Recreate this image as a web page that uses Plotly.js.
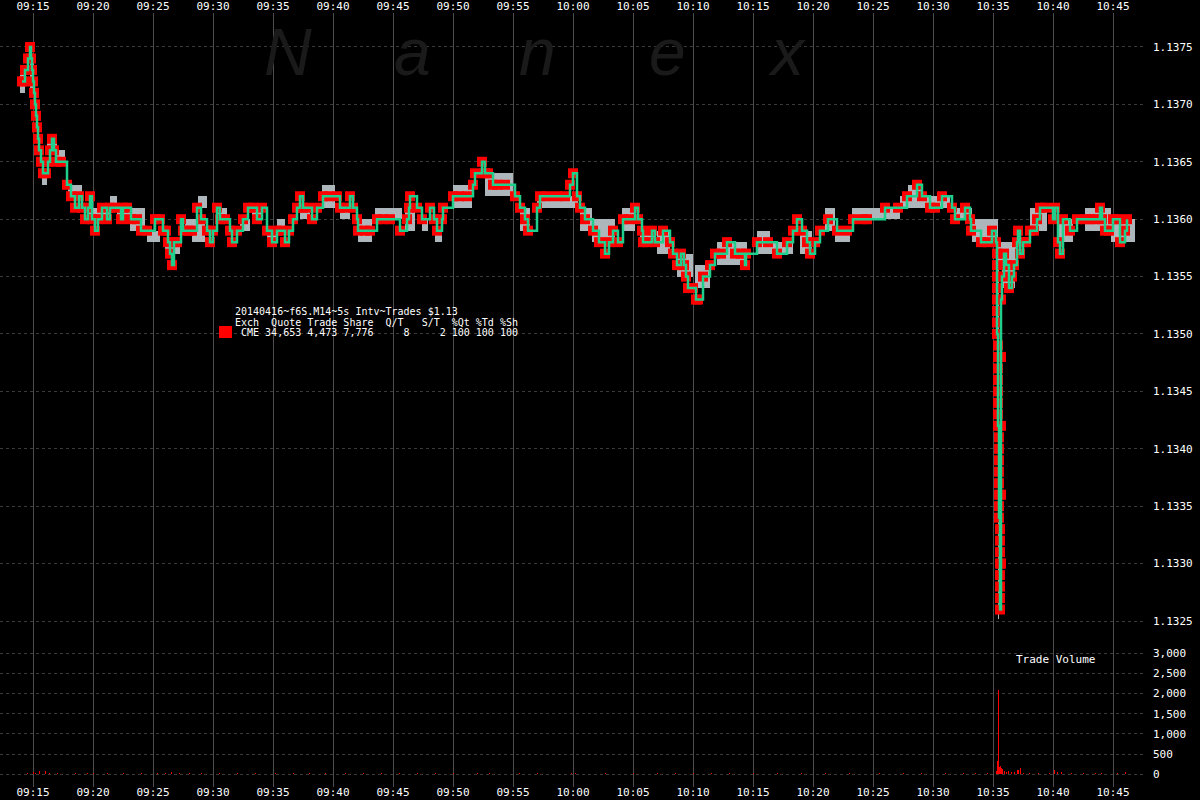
<!DOCTYPE html>
<html>
<head>
<meta charset="utf-8">
<script src="https://cdn.plot.ly/plotly-3.0.1.min.js"></script>
<style>html,body{margin:0;padding:0;background:#000;}#chart{width:1200px;height:800px;}</style>
</head>
<body>
<div id="chart"></div>
<script>
// ---- DATA ----
const DAY = '2014-04-16 ';

// Trades: time of each trade and its price
const tradeTimes = [
'09:14:05','09:14:15','09:14:20','09:14:35','09:14:45','09:14:50','09:14:55','09:15:00','09:15:05','09:15:10',
'09:15:15','09:15:20','09:15:25','09:15:30','09:15:40','09:15:50','09:16:05','09:16:15','09:16:25','09:16:35',
'09:16:45','09:16:55','09:17:20','09:17:50','09:18:10','09:18:30','09:18:50','09:19:05','09:19:20','09:19:35',
'09:19:45','09:19:55','09:20:10','09:20:25','09:20:45','09:21:10','09:21:25','09:21:50','09:22:20','09:22:30',
'09:22:50','09:23:10','09:23:40','09:24:00','09:24:30','09:25:10','09:25:35','09:25:50','09:26:05','09:26:15',
'09:26:25','09:26:35','09:26:45','09:27:00','09:27:20','09:27:30','09:28:00','09:28:15','09:28:40','09:29:00',
'09:29:30','09:29:45','09:30:00','09:30:20','09:30:35','09:31:00','09:31:25','09:31:35','09:32:00','09:32:30',
'09:32:55','09:33:20','09:33:40','09:34:05','09:34:30','09:34:55','09:35:20','09:35:40','09:36:00','09:36:20',
'09:36:40','09:37:00','09:37:15','09:37:30','09:37:50','09:38:15','09:38:40','09:39:10','09:39:40','09:40:20',
'09:40:35','09:41:00','09:41:25','09:41:40','09:42:00','09:42:05','09:42:40','09:43:05','09:43:40','09:44:10',
'09:44:45','09:45:35','09:46:10','09:46:20','09:46:25','09:47:00','09:47:25','09:48:05','09:48:25','09:48:40',
'09:49:05','09:49:10','09:50:00','09:50:30','09:51:10','09:51:40','09:51:50','09:52:25','09:52:40','09:52:55',
'09:53:20','09:53:40','09:54:20','09:55:10','09:55:35','09:56:00','09:56:15','09:57:00','09:57:15','09:57:50',
'09:58:40','09:59:20','09:59:45','10:00:00','10:00:20','10:00:35','10:01:00','10:01:40','10:02:10','10:02:40',
'10:03:00','10:03:20','10:03:45','10:04:10','10:04:40','10:05:10','10:05:25','10:05:45','10:05:50','10:06:10',
'10:06:35','10:06:50','10:07:30','10:08:05','10:08:20','10:08:40','10:09:00','10:09:15','10:09:25','10:09:35',
'10:10:00','10:10:15','10:10:25','10:10:50','10:11:25','10:11:50','10:12:20','10:12:50','10:13:30','10:14:00',
'10:14:20','10:14:25','10:15:20','10:16:15','10:17:00','10:17:50','10:18:20','10:18:40','10:19:05','10:19:30',
'10:19:45','10:20:10','10:20:35','10:21:15','10:22:00','10:22:50','10:23:20','10:24:10','10:24:30','10:26:00',
'10:27:05','10:27:50','10:28:40','10:29:05','10:29:45','10:30:10','10:30:45','10:31:35','10:31:50','10:32:40',
'10:33:05','10:33:10','10:34:00','10:34:35','10:34:55','10:35:15',
'10:35:20','10:35:20','10:35:20','10:35:20','10:35:20','10:35:20','10:35:20','10:35:20',
'10:35:25','10:35:25','10:35:25','10:35:25','10:35:25','10:35:25','10:35:25','10:35:25',
'10:35:30','10:35:30','10:35:30','10:35:30','10:35:30','10:35:30','10:35:30','10:35:30',
'10:35:35','10:35:35','10:35:35','10:35:35','10:35:35','10:35:35','10:35:35','10:35:35',
'10:35:40','10:35:40','10:35:40','10:35:40','10:35:40','10:35:45','10:35:55','10:36:05','10:36:20','10:36:35',
'10:36:45','10:37:00','10:37:05','10:37:15','10:37:30','10:37:45','10:38:05','10:38:25','10:38:40','10:38:55',
'10:39:20','10:40:00','10:40:10','10:40:25','10:40:35','10:40:50','10:41:25','10:42:00','10:42:40','10:43:05',
'10:43:30','10:43:55','10:44:05','10:44:20','10:44:40','10:45:00','10:45:25','10:45:35','10:46:00','10:46:10'
];
const tradePrices = [
1.1372,1.1372,1.1373,1.1374,1.1375,1.1374,1.1373,1.1372,1.1371,1.1370,
1.1369,1.1368,1.1367,1.1366,1.1365,1.1364,1.1364,1.1365,1.1366,1.1367,
1.1366,1.1365,1.1365,1.1363,1.1362,1.1361,1.1362,1.1361,1.1360,1.1361,
1.1362,1.1360,1.1359,1.1360,1.1361,1.1360,1.1361,1.1361,1.1360,1.1361,
1.1361,1.1360,1.1360,1.1359,1.1359,1.1360,1.1360,1.1359,1.1359,1.1358,
1.1357,1.1356,1.1358,1.1358,1.1360,1.1359,1.1359,1.1359,1.1361,1.1360,
1.1359,1.1358,1.1359,1.1361,1.1360,1.1360,1.1359,1.1358,1.1359,1.1360,
1.1361,1.1361,1.1360,1.1361,1.1359,1.1358,1.1359,1.1359,1.1358,1.1359,
1.1360,1.1361,1.1362,1.1361,1.1361,1.1360,1.1361,1.1362,1.1362,1.1362,
1.1361,1.1361,1.1362,1.1361,1.1360,1.1359,1.1359,1.1359,1.1360,1.1360,
1.1360,1.1359,1.1360,1.1361,1.1362,1.1361,1.1360,1.1361,1.1360,1.1359,
1.1360,1.1361,1.1362,1.1362,1.1362,1.1363,1.1364,1.1365,1.1364,1.1364,
1.1363,1.1363,1.1363,1.1362,1.1361,1.1360,1.1359,1.1361,1.1362,1.1362,
1.1362,1.1362,1.1363,1.1364,1.1362,1.1361,1.1360,1.1359,1.1358,1.1357,
1.1358,1.1359,1.1358,1.1360,1.1360,1.1361,1.1360,1.1359,1.1358,1.1358,
1.1359,1.1358,1.1359,1.1358,1.1357,1.1356,1.1357,1.1356,1.1355,1.1354,
1.1354,1.1353,1.1353,1.1355,1.1356,1.1357,1.1357,1.1358,1.1357,1.1357,
1.1356,1.1357,1.1358,1.1358,1.1357,1.1358,1.1359,1.1360,1.1359,1.1358,
1.1357,1.1358,1.1359,1.1360,1.1359,1.1359,1.1360,1.1360,1.1360,1.1361,
1.1361,1.1362,1.1363,1.1362,1.1361,1.1361,1.1362,1.1361,1.1360,1.1361,
1.1360,1.1359,1.1358,1.1358,1.1359,1.1358,
1.1357,1.1356,1.1355,1.1354,1.1353,1.1352,1.1351,1.1350,
1.1349,1.1348,1.1347,1.1346,1.1345,1.1344,1.1343,1.1342,
1.1341,1.1340,1.1339,1.1338,1.1337,1.1336,1.1335,1.1334,
1.1333,1.1332,1.1331,1.1330,1.1329,1.1328,1.1327,1.1326,
1.1330,1.1336,1.1342,1.1348,1.1353,1.1355,1.1357,1.1356,1.1354,1.1355,
1.1356,1.1358,1.1359,1.1357,1.1358,1.1358,1.1359,1.1359,1.1360,1.1361,
1.1361,1.1360,1.1361,1.1358,1.1357,1.1360,1.1359,1.1360,1.1360,1.1360,
1.1360,1.1361,1.1360,1.1359,1.1359,1.1360,1.1360,1.1358,1.1359,1.1360
];

// Quote ranges (grey blocks): start, end, low, high
const quoteStart = ['09:13:55','09:14:45','09:15:45','09:16:10','09:17:00','09:17:55','09:19:30','09:21:25','09:22:00','09:23:05',
'09:24:30','09:26:00','09:27:40','09:28:15','09:28:45','09:30:20','09:32:15','09:33:15','09:34:30','09:35:20',
'09:37:15','09:39:05','09:40:35','09:42:05','09:43:30','09:46:00','09:47:25','09:48:30','09:50:00','09:52:40',
'09:55:35','09:57:00','10:00:35','10:01:35','10:04:05','10:05:35','10:07:00','10:08:40','10:10:10','10:12:00',
'10:15:20','10:16:25','10:18:55','10:21:00','10:21:50','10:23:15','10:27:15','10:27:55','10:29:45','10:31:50',
'10:33:15','10:35:20','10:35:45','10:38:05','10:40:20','10:42:40','10:44:50','10:35:25'];
const quoteEnd = ['09:14:20','09:15:05','09:16:10','09:17:00','09:17:40','09:19:05','09:21:25','09:22:00','09:23:05','09:24:20',
'09:25:35','09:27:15','09:28:15','09:29:20','09:29:30','09:31:10','09:33:05','09:34:05','09:35:20','09:36:00',
'09:38:05','09:40:10','09:41:25','09:43:15','09:45:45','09:46:50','09:47:55','09:49:05','09:51:35','09:55:00',
'09:56:25','10:00:25','10:01:35','10:03:30','10:05:10','10:06:50','10:08:05','10:10:00','10:11:25','10:14:30',
'10:16:25','10:18:20','10:19:55','10:21:50','10:23:05','10:27:15','10:29:45','10:29:05','10:31:25','10:33:15',
'10:35:25','10:37:00','10:36:50','10:39:30','10:41:40','10:44:50','10:46:50','10:35:30'];
const quoteLow = [1.1371,1.1371,1.1363,1.1366,1.1365,1.1362,1.1360,1.1361,1.1360,1.1359,
1.1358,1.1357,1.1359,1.1358,1.1361,1.1360,1.1359,1.1360,1.1358,1.1359,
1.1360,1.1361,1.1360,1.1358,1.1360,1.1359,1.1359,1.1358,1.1361,1.1362,
1.1359,1.1361,1.1359,1.1358,1.1359,1.1358,1.1357,1.1355,1.1354,1.1356,
1.1357,1.1357,1.1357,1.1359,1.1358,1.1360,1.1361,1.1362,1.1361,1.1360,
1.1358,1.1356,1.1354,1.1359,1.1358,1.1359,1.1358,1.13252];
const quoteHigh = [1.1373,1.1374,1.1364,1.1367,1.1366,1.1363,1.1361,1.1362,1.1361,1.1361,
1.1359,1.1358,1.1360,1.1360,1.1362,1.1361,1.1360,1.1361,1.1359,1.1360,
1.1361,1.1363,1.1361,1.1360,1.1361,1.1361,1.1360,1.1359,1.1363,1.1364,
1.1361,1.1362,1.1361,1.1360,1.1361,1.1359,1.1359,1.1357,1.1356,1.1358,
1.1359,1.1358,1.1359,1.1361,1.1359,1.1361,1.1362,1.1363,1.1362,1.1361,
1.1360,1.1358,1.1356,1.1361,1.1360,1.1361,1.1360,1.1358];

// Trade volume per 5 s interval
const volTimes = ['09:14:30','09:15:00','09:15:10','09:15:30','09:16:00','09:16:20','09:17:00','09:18:30','09:19:30','09:20:00',
'09:21:10','09:22:30','09:24:00','09:25:20','09:26:00','09:26:30','09:27:10','09:28:00','09:29:00','09:30:30',
'09:32:00','09:33:30','09:35:10','09:36:40','09:38:00','09:39:20','09:41:00','09:42:30','09:44:00','09:45:30',
'09:47:00','09:48:30','09:50:00','09:52:00','09:53:00','09:55:30','09:57:00','09:59:50','10:00:10','10:02:40',
'10:05:00','10:07:00','10:08:30','10:10:00','10:11:30','10:13:00','10:15:00','10:17:00','10:19:00','10:21:00',
'10:23:00','10:25:30','10:27:30','10:29:00','10:31:00','10:32:30','10:33:30','10:34:30','10:35:15','10:35:20',
'10:35:25','10:35:30','10:35:35','10:35:40','10:35:45','10:35:55','10:36:05','10:36:15','10:36:30','10:36:45',
'10:37:00','10:37:05','10:37:15','10:37:30','10:38:00','10:38:45','10:39:40','10:40:05','10:40:20','10:40:40',
'10:41:30','10:42:30','10:43:30','10:44:00','10:45:20','10:46:00'];
const volValues = [40,60,30,75,70,40,30,25,30,25,
30,25,20,35,40,45,40,35,25,30,
25,25,30,25,30,25,30,25,30,25,
35,30,30,40,30,30,25,40,35,30,
25,30,35,40,30,25,30,25,30,25,
30,25,30,35,25,30,40,35,90,330,
2090,190,200,150,120,70,60,80,50,60,
110,100,150,40,30,25,30,100,50,60,
30,25,40,30,30,45];

// Axis ticks
const priceTicks = [1.1325,1.1330,1.1335,1.1340,1.1345,1.1350,1.1355,1.1360,1.1365,1.1370,1.1375];
const volTicks = [0,500,1000,1500,2000,2500,3000];

const legendLines = [
  '20140416~f6S.M14~5s Intv~Trades $1.13',
  'Exch  Quote Trade Share  Q/T   S/T  %Qt %Td %Sh',
  ' CME 34,653 4,473 7,776     8     2 100 100 100'
];
const watermark = ['N','a','n','e','x'];

// ---- helpers ----
function ms(t){const p=t.split(':').map(Number);return ((p[0]*60+p[1])*60+p[2])*1000;}
const nb = s => s.replace(/ /g,'\u00a0');
const W = 1146, T = 13, PH = 774; // plot width, top margin, plot height
const px = x => x / W;
const py = y => (T + PH - y) / PH;

const traces = [
  {type:'bar', x: quoteStart.map(t=>DAY+t), base: quoteLow,
   y: quoteHigh.map((h,i)=>h-quoteLow[i]),
   width: quoteStart.map((s,i)=>ms(quoteEnd[i])-ms(s)), offset: 0,
   marker:{color:'#adb6ba', line:{width:0}}, xaxis:'x', yaxis:'y', hoverinfo:'skip'},
  {type:'scatter', mode:'markers', x: tradeTimes.map(t=>DAY+t), y: tradePrices,
   marker:{symbol:'square', size:10, color:'#ff0000', line:{width:0}}, xaxis:'x', yaxis:'y', hoverinfo:'skip'},
  {type:'scatter', mode:'lines', x: tradeTimes.map(t=>DAY+t), y: tradePrices,
   line:{shape:'hv', color:'#1fd08c', width:2.5}, xaxis:'x', yaxis:'y', hoverinfo:'skip'},
  {type:'bar', x: volTimes.map(t=>DAY+t), y: volValues, width: 5000, offset: 0,
   marker:{color:'#ff0000', line:{width:0}}, xaxis:'x2', yaxis:'y2', hoverinfo:'skip'}
];

const tickFont = {family:'DejaVu Sans Mono', size:11, color:'#ffffff'};
const xBase = {type:'date', range:[DAY+'09:12:15', DAY+'10:47:45'], tickformat:'%H:%M',
  dtick:300000, tick0:DAY+'09:15:00', showgrid:true, gridcolor:'#4d4d4d', gridwidth:1,
  zeroline:false, showline:false, ticks:'', tickfont:tickFont, fixedrange:true};

const annotations = [];
const wmX = [288, 412, 537, 667, 787];
watermark.forEach((c,i)=>annotations.push({xref:'paper', yref:'paper', x:px(wmX[i]), y:py(52),
  xanchor:'center', yanchor:'middle', showarrow:false, text:'<i>'+c+'</i>',
  font:{family:'Liberation Sans', size:66, color:'#1a1a1a'}}));
const lgY = [311.5, 322, 332.5];
legendLines.forEach((s,i)=>annotations.push({xref:'paper', yref:'paper', x:px(233), y:py(lgY[i]),
  xanchor:'left', yanchor:'middle', showarrow:false, text:nb(s),
  font:{family:'DejaVu Sans Mono', size:10, color:'#ffffff'}}));
annotations.push({xref:'paper', yref:'paper', x:px(1055), y:py(659), xanchor:'center', yanchor:'middle',
  showarrow:false, text:nb('Trade Volume'), font:{family:'DejaVu Sans Mono', size:11, color:'#ffffff'}});

const layout = {
  width:1200, height:800,
  paper_bgcolor:'#000000', plot_bgcolor:'#000000',
  margin:{l:0, r:54, t:13, b:13, pad:0},
  showlegend:false, barmode:'overlay', bargap:0,
  font:{family:'DejaVu Sans Mono', color:'#ffffff', size:11},
  xaxis: Object.assign({}, xBase, {anchor:'y', side:'top'}),
  xaxis2: Object.assign({}, xBase, {anchor:'y2', side:'bottom', matches:'x', ticklabelstandoff:-3}),
  yaxis: {domain:[0.19,1], range:[1.132335,1.137796], side:'right', tickvals:priceTicks,
    tickformat:'.4f', showgrid:true, gridcolor:'#3a3a3a', griddash:'3px,3px', gridwidth:1,
    zeroline:false, showline:false, ticks:'', tickfont:tickFont, ticklabelstandoff:6, fixedrange:true},
  yaxis2: {domain:[0,0.19], range:[-315,3330], side:'right', tickvals:volTicks,
    tickformat:',d', showgrid:true, gridcolor:'#3a3a3a', griddash:'3px,3px', gridwidth:1,
    zeroline:false, showline:false, ticks:'', tickfont:tickFont, ticklabelstandoff:6, fixedrange:true},
  annotations: annotations,
  shapes: [{type:'rect', xref:'paper', yref:'paper', x0:px(219), x1:px(232), y0:py(338), y1:py(326),
    fillcolor:'#ff0000', line:{width:0}}]
};

Plotly.newPlot('chart', traces, layout, {staticPlot:true, displayModeBar:false});
</script>
</body>
</html>
